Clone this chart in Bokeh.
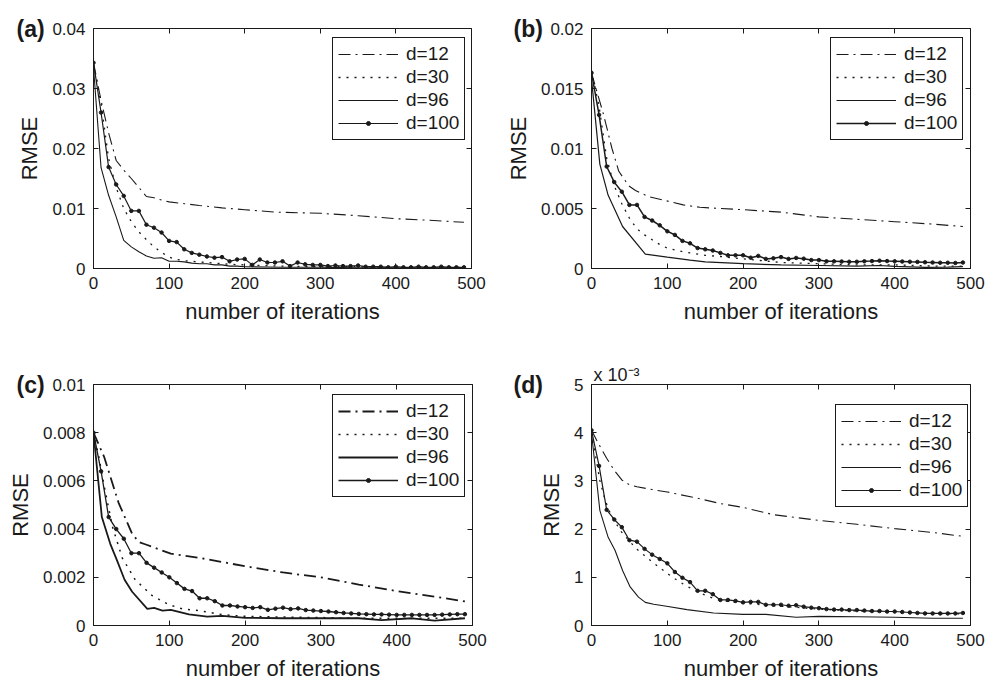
from bokeh.plotting import figure
from bokeh.models import (Legend, LegendItem, Title, FixedTicker, LinearAxis,
                          PrintfTickFormatter, CustomJSTickFormatter, Range1d)
from bokeh.layouts import column, row
from bokeh.embed import file_html
from bokeh.resources import INLINE

# ---------------- data ----------------
LABELS = ["d=12", "d=30", "d=96", "d=100"]
X_TICKS = [0, 100, 200, 300, 400, 500]

ITER = [0, 10, 20, 30, 40, 50, 60, 70, 80, 90, 100, 110, 120, 130, 140, 150, 160, 170, 180, 190,
        200, 210, 220, 230, 240, 250, 260, 270, 280, 290, 300, 310, 320, 330, 340, 350, 360, 370, 380, 390,
        400, 410, 420, 430, 440, 450, 460, 470, 480, 490]

# panel (a)
A_Y_TICKS = [0, 0.01, 0.02, 0.03, 0.04]
A_D100 = [0.0343, 0.0260, 0.0169, 0.0140, 0.0121, 0.0096, 0.0096, 0.0073, 0.0068, 0.0060,
          0.0046, 0.0044, 0.0032, 0.0026, 0.0023, 0.0020, 0.0018, 0.0019, 0.0012, 0.0015,
          0.0016, 0.0006, 0.0015, 0.0010, 0.0010, 0.0012, 0.0004, 0.0010, 0.0007, 0.0006,
          0.0006, 0.0004, 0.0005, 0.0004, 0.0004, 0.0005, 0.0003, 0.0003, 0.0003, 0.0002,
          0.0003, 0.0002, 0.0002, 0.0003, 0.0002, 0.0002, 0.0003, 0.0002, 0.0002, 0.0002]
A_D96_X = [0, 10, 20, 30, 40, 50, 60, 70, 80, 90, 100, 110, 120, 130, 140, 150, 160, 170, 180, 190,
           200, 250, 300, 350, 400, 450, 490]
A_D96 = [0.0335, 0.0168, 0.0122, 0.0086, 0.0047, 0.0036, 0.0028, 0.0021, 0.0017, 0.0018,
         0.0012, 0.0012, 0.0011, 0.0009, 0.0008, 0.0008, 0.0006, 0.0006, 0.0004, 0.0004,
         0.0003, 0.0002, 0.0002, 0.0001, 0.0001, 0.0001, 0.0001]
A_D30_X = [0, 10, 20, 30, 40, 50, 60, 70, 80, 90, 100, 110, 120, 140, 160, 180, 200, 250, 300, 350,
           400, 450, 490]
A_D30 = [0.0340, 0.0275, 0.0183, 0.0135, 0.0100, 0.0078, 0.0061, 0.0048, 0.0036, 0.0027,
         0.0019, 0.0015, 0.0013, 0.0011, 0.0009, 0.0007, 0.0006, 0.0004, 0.0003, 0.0003,
         0.0002, 0.0002, 0.0002]
A_D12_X = [0, 10, 20, 30, 40, 50, 60, 70, 80, 90, 100, 120, 140, 170, 200, 240, 300, 350, 400, 450, 490]
A_D12 = [0.0343, 0.0280, 0.0226, 0.0180, 0.0164, 0.0150, 0.0135, 0.0120, 0.0118, 0.0114,
         0.0111, 0.0108, 0.0105, 0.0101, 0.0098, 0.0094, 0.0092, 0.0088, 0.0083, 0.0080, 0.0077]

# panel (b)
B_Y_TICKS = [0, 0.005, 0.01, 0.015, 0.02]
B_D100 = [0.0163, 0.0128, 0.0085, 0.0072, 0.0064, 0.0053, 0.0053, 0.0043, 0.0040, 0.0036,
          0.0031, 0.0028, 0.0023, 0.0021, 0.0017, 0.0016, 0.0015, 0.0013, 0.0011, 0.0011,
          0.0011, 0.0009, 0.00105, 0.0008, 0.00085, 0.00095, 0.0008, 0.00088, 0.00082, 0.0007,
          0.0007, 0.0006, 0.0006, 0.00058, 0.00056, 0.00056, 0.0006, 0.00062, 0.00065, 0.00062,
          0.0006, 0.00058, 0.00056, 0.00055, 0.00052, 0.0005, 0.00048, 0.00048, 0.00046, 0.0005]
B_D96_X = [0, 11, 22, 41, 71, 100, 130, 150, 200, 250, 300, 350, 380, 400, 440, 470, 490]
B_D96 = [0.0158, 0.0087, 0.0061, 0.0035, 0.0012, 0.00095, 0.0007, 0.00055, 0.0004, 0.0003,
         0.00025, 0.0002, 0.00025, 0.00018, 0.0001, 0.00012, 0.00015]
B_D30_X = [0, 10, 20, 30, 40, 50, 60, 70, 80, 90, 100, 120, 150, 170, 200, 250, 300, 350, 400, 450, 490]
B_D30 = [0.0165, 0.0135, 0.0092, 0.0069, 0.0054, 0.0042, 0.0033, 0.0028, 0.0024, 0.0020,
         0.0017, 0.0014, 0.0011, 0.0010, 0.0008, 0.0005, 0.0004, 0.0003, 0.0003, 0.0002, 0.0002]
B_D12_X = [0, 16, 27, 36, 49, 58, 75, 95, 121, 143, 170, 200, 250, 300, 350, 400, 450, 490]
B_D12 = [0.0163, 0.0128, 0.0100, 0.0081, 0.0069, 0.0065, 0.0060, 0.0057, 0.0053, 0.0051,
         0.0050, 0.0049, 0.0047, 0.0043, 0.0041, 0.0039, 0.0037, 0.0035]

# panel (c)
C_Y_TICKS = [0, 0.002, 0.004, 0.006, 0.008, 0.01]
C_D100 = [0.0080, 0.0064, 0.0045, 0.0040, 0.0036, 0.0030, 0.0030, 0.0026, 0.0024, 0.0022,
          0.0020, 0.00176, 0.00152, 0.00143, 0.00113, 0.00113, 0.00101, 0.00083, 0.00083, 0.00079,
          0.00076, 0.00073, 0.00076, 0.00065, 0.0007, 0.00074, 0.00068, 0.00071, 0.00064, 0.00062,
          0.0006, 0.00058, 0.00055, 0.00052, 0.0005, 0.00048, 0.00047, 0.00046, 0.00046, 0.00045,
          0.00044, 0.00044, 0.00044, 0.00044, 0.00044, 0.00044, 0.00045, 0.00046, 0.00047, 0.00047]
C_D96_X = [0, 11, 22, 31, 41, 51, 71, 80, 91, 102, 126, 150, 170, 200, 250, 300, 350, 380, 420, 450, 490]
C_D96 = [0.0080, 0.0045, 0.0034, 0.0027, 0.0019, 0.0014, 0.00069, 0.00073, 0.00062, 0.00065,
         0.00046, 0.00037, 0.0004, 0.00032, 0.0003, 0.0003, 0.0003, 0.00022, 0.0003, 0.0002, 0.0003]
C_D30_X = [0, 7, 14, 25, 38, 55, 77, 99, 117, 139, 170, 200, 250, 300, 350, 400, 450, 490]
C_D30 = [0.0080, 0.0070, 0.0058, 0.0041, 0.0028, 0.0019, 0.00125, 0.00087, 0.00069, 0.00062,
         0.00045, 0.00038, 0.00035, 0.00033, 0.0003, 0.0003, 0.0003, 0.0003]
C_D12_X = [0, 14, 33, 51, 60, 69, 102, 146, 200, 250, 300, 350, 400, 450, 490]
C_D12 = [0.0080, 0.0070, 0.0051, 0.0038, 0.00346, 0.00336, 0.00298, 0.00277, 0.00246, 0.0022,
         0.0020, 0.0017, 0.00143, 0.0012, 0.0010]

# panel (d)  (values in units of 1e-3)
D_Y_TICKS = [0, 1, 2, 3, 4, 5]
D_D100 = [4.05, 3.31, 2.40, 2.20, 2.04, 1.77, 1.74, 1.59, 1.47, 1.38,
          1.29, 1.11, 0.99, 0.90, 0.72, 0.72, 0.65, 0.53, 0.53, 0.51,
          0.48, 0.49, 0.49, 0.43, 0.43, 0.43, 0.41, 0.42, 0.39, 0.37,
          0.36, 0.34, 0.33, 0.33, 0.32, 0.32, 0.31, 0.30, 0.30, 0.29,
          0.29, 0.28, 0.27, 0.26, 0.25, 0.25, 0.25, 0.25, 0.25, 0.26]
D_D96_X = [0, 11, 22, 31, 41, 51, 62, 71, 82, 99, 126, 161, 200, 230, 270, 300, 350, 400, 450, 490]
D_D96 = [4.0, 2.39, 1.83, 1.56, 1.14, 0.80, 0.59, 0.48, 0.44, 0.40,
         0.33, 0.26, 0.23, 0.23, 0.17, 0.19, 0.18, 0.17, 0.15, 0.15]
D_D30_X = [0, 11, 18, 25, 38, 50, 60, 70, 80, 90, 100, 110, 120, 130, 140, 150, 160, 170, 200, 250,
           300, 350, 400, 450, 490]
D_D30 = [4.0, 3.01, 2.60, 2.32, 1.97, 1.75, 1.58, 1.45, 1.32, 1.20, 1.08, 0.97, 0.87, 0.78, 0.70,
         0.63, 0.57, 0.52, 0.46, 0.40, 0.34, 0.30, 0.28, 0.25, 0.24]
D_D12_X = [0, 10, 20, 30, 40, 50, 60, 80, 100, 140, 170, 200, 240, 300, 350, 400, 450, 490]
D_D12 = [4.05, 3.75, 3.47, 3.22, 3.02, 2.92, 2.88, 2.82, 2.77, 2.64, 2.53, 2.45, 2.30, 2.18,
         2.10, 2.01, 1.93, 1.85]
D_EXPONENT = "x 10\u207b\u00b3"

# ---------------- styling ----------------
FONT = "Liberation Sans"
INK = "#1a1a1a"
DASHDOT = "12 5 2 5"
DOTTED = "2 6"


def make_panel(letter, w, h, borders, ymax, yticks, data, legend_xy, lw, letter_left,
               exponent=None):
    left, right, top, bottom = borders
    p = figure(width=w, height=h, output_backend="svg", toolbar_location=None,
               x_range=Range1d(0, 500), y_range=Range1d(0, ymax),
               min_border_left=left, min_border_right=right,
               min_border_top=top, min_border_bottom=bottom,
               background_fill_color="white", border_fill_color="white")
    p.xgrid.visible = False
    p.ygrid.visible = False
    p.outline_line_color = INK
    p.outline_line_width = 1
    p.outline_line_alpha = 1

    for ax, ticks in ((p.xaxis, X_TICKS), (p.yaxis, yticks)):
        ax.ticker = FixedTicker(ticks=ticks)
        ax.formatter = PrintfTickFormatter(format="%g")
        ax.major_tick_in = 5
        ax.major_tick_out = 0
        ax.minor_tick_line_color = None
        ax.major_tick_line_color = INK
        ax.axis_line_color = INK
        ax.major_label_text_font = FONT
        ax.major_label_text_font_size = "17px"
        ax.major_label_text_color = INK
        ax.axis_label_text_font = FONT
        ax.axis_label_text_font_size = "22px"
        ax.axis_label_text_font_style = "normal"
        ax.axis_label_text_color = INK
        ax.major_label_standoff = 8
        ax.axis_label_standoff = 7
    p.xaxis.axis_label = "number of iterations"
    p.yaxis.axis_label = "RMSE"

    # inward ticks on the top and right edges of the box
    blank = CustomJSTickFormatter(code="return ''")
    top_ax = LinearAxis(ticker=FixedTicker(ticks=X_TICKS), formatter=blank,
                        major_tick_in=5, major_tick_out=0, minor_tick_line_color=None,
                        axis_line_color=None, major_tick_line_color=INK, major_label_standoff=0)
    right_ax = LinearAxis(ticker=FixedTicker(ticks=yticks), formatter=blank,
                          major_tick_in=5, major_tick_out=0, minor_tick_line_color=None,
                          axis_line_color=None, major_tick_line_color=INK, major_label_standoff=0)
    p.add_layout(top_ax, "above")
    p.add_layout(right_ax, "right")

    (x12, y12), (x30, y30), (x96, y96), (x100, y100) = data
    r12 = p.line(x12, y12, line_color=INK, line_width=lw[0], line_dash=DASHDOT)
    r30 = p.line(x30, y30, line_color=INK, line_width=lw[1], line_dash=DOTTED)
    r96 = p.line(x96, y96, line_color=INK, line_width=lw[2])
    r100 = p.line(x100, y100, line_color=INK, line_width=lw[3])
    m100 = p.scatter(x100, y100, size=3.5, marker="circle", fill_color=INK, line_color=INK)

    items = [LegendItem(label=LABELS[0], renderers=[r12]),
             LegendItem(label=LABELS[1], renderers=[r30]),
             LegendItem(label=LABELS[2], renderers=[r96]),
             LegendItem(label=LABELS[3], renderers=[r100, m100])]
    legend = Legend(items=items, location=legend_xy,
                    label_text_font=FONT, label_text_font_size="19px", label_text_color=INK,
                    border_line_color=INK, border_line_width=1.2, border_line_alpha=1,
                    background_fill_color="white", background_fill_alpha=1,
                    padding=5, spacing=1, margin=0, glyph_width=60, glyph_height=10,
                    label_height=20, label_standoff=8)
    p.add_layout(legend)

    # panel letter: a title that takes (almost) no room, centred on the top edge of the box
    p.add_layout(Title(text=letter, align="left", offset=letter_left - left,
                       vertical_align="middle", standoff=-30, text_font=FONT,
                       text_font_style="bold", text_font_size="23px", text_color=INK), "above")
    if exponent:
        p.add_layout(Title(text=exponent, align="left", offset=2, vertical_align="bottom",
                           standoff=0, text_font=FONT, text_font_style="normal",
                           text_font_size="18px", text_color=INK), "above")
    return p


pa = make_panel("(a)", 500, 340, (93, 29, 28, 72), 0.04, A_Y_TICKS,
                [(A_D12_X, A_D12), (A_D30_X, A_D30), (A_D96_X, A_D96), (ITER, A_D100)],
                (239, 128), (1.1, 1.3, 1.1, 1.2), 16)
pb = make_panel("(b)", 499, 340, (91, 29, 28, 72), 0.02, B_Y_TICKS,
                [(B_D12_X, B_D12), (B_D30_X, B_D30), (B_D96_X, B_D96), (ITER, B_D100)],
                (239, 128), (1.1, 1.3, 1.2, 1.5), 13)
pc = make_panel("(c)", 500, 343, (93, 28, 44, 58), 0.01, C_Y_TICKS,
                [(C_D12_X, C_D12), (C_D30_X, C_D30), (C_D96_X, C_D96), (ITER, C_D100)],
                (239, 128), (1.8, 1.5, 1.8, 1.3), 16)
pd = make_panel("(d)", 499, 343, (91, 29, 44, 58), 5, D_Y_TICKS,
                [(D_D12_X, D_D12), (D_D30_X, D_D30), (D_D96_X, D_D96), (ITER, D_D100)],
                (244, 118), (1.1, 1.3, 1.1, 1.2), 13, exponent=D_EXPONENT)

layout = column(row(pa, pb), row(pc, pd))
open("out.html", "w").write(file_html(layout, INLINE))
